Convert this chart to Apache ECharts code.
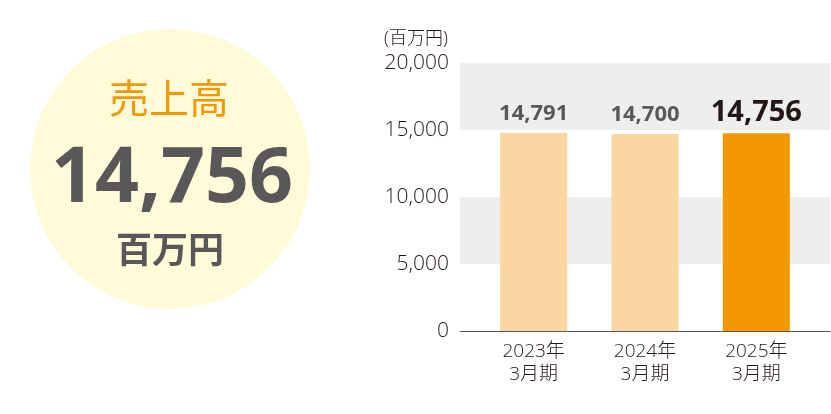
<!DOCTYPE html>
<html>
<head>
<meta charset="utf-8">
<script src="https://cdn.jsdelivr.net/npm/echarts@6/dist/echarts.min.js"></script>
<style>
  html, body { margin: 0; padding: 0; background: #fff; }
  #main { width: 831px; height: 414px; }
</style>
</head>
<body>
<div id="main"></div>
<script>
// データ
var years = ['2023年\n3月期', '2024年\n3月期', '2025年\n3月期'];
var sales = [14791, 14700, 14756];
var yTicks = [0, 5000, 10000, 15000, 20000];
var unitLabel = '(百万円)';
var headTitle = '売上高';

var FONT = '"Noto Sans CJK JP", "Noto Sans", sans-serif';
var NUMFONT = '"Open Sans", "Noto Sans CJK JP", sans-serif';
var latest = sales[sales.length - 1];
var fmt = function (v) { return v.toLocaleString('en-US'); };

var myChart = echarts.init(document.getElementById('main'));

var option = {
  animation: false,
  textStyle: { fontFamily: FONT },
  grid: [
    // 背景の縞と軸線
    { left: 460, right: 1, top: 63, bottom: 83 },
    // 棒グラフ
    { left: 478, right: 19, top: 63, bottom: 83 }
  ],
  xAxis: [
    {
      gridIndex: 0, type: 'category', data: [''],
      axisLine: { show: true, lineStyle: { color: '#595757', width: 1 } },
      axisTick: { show: false }, axisLabel: { show: false }
    },
    {
      gridIndex: 1, type: 'category', data: years,
      axisLine: { show: false }, axisTick: { show: false },
      axisLabel: {
        color: '#231815', fontSize: 19, lineHeight: 23, margin: 9,
        fontFamily: NUMFONT, fontWeight: 300
      }
    }
  ],
  yAxis: [
    {
      gridIndex: 0, type: 'value', min: yTicks[0], max: yTicks[yTicks.length - 1],
      interval: yTicks[1] - yTicks[0],
      axisLine: { show: false }, axisTick: { show: false },
      splitLine: { show: false },
      splitArea: { show: true, areaStyle: { color: ['rgba(0,0,0,0)', '#eeeeee'] } },
      axisLabel: {
        color: '#231815', fontSize: 21, margin: 11, fontWeight: 300,
        fontFamily: NUMFONT, padding: [3, 0, 0, 0],
        formatter: function (v) { return fmt(v); }
      }
    },
    {
      gridIndex: 1, type: 'value', min: yTicks[0], max: yTicks[yTicks.length - 1],
      interval: yTicks[1] - yTicks[0],
      show: false
    }
  ],
  series: [
    {
      type: 'bar', xAxisIndex: 1, yAxisIndex: 1,
      barWidth: 67,
      data: sales.map(function (v, i) {
        var isLast = i === sales.length - 1;
        return {
          value: v,
          itemStyle: { color: isLast ? '#f39800' : '#fad7a0' },
          label: isLast
            ? { fontSize: 29, color: '#231815', fontWeight: 'bold', distance: 6 }
            : { fontSize: 22, color: '#595757', fontWeight: 'bold', distance: 8 }
        };
      }),
      label: {
        show: true, position: 'top',
        fontFamily: '"Noto Sans", sans-serif',
        formatter: function (p) { return fmt(p.value); }
      }
    }
  ],
  graphic: [
    {
      type: 'circle', shape: { cx: 170, cy: 169, r: 140 },
      style: { fill: '#fffad8' }, z: -1
    },
    {
      type: 'text', x: 169, y: 98,
      style: {
        text: headTitle, fill: '#f39800', font: '40px ' + FONT,
        textAlign: 'center', textVerticalAlign: 'middle'
      }
    },
    {
      type: 'text', x: 172, y: 180,
      style: {
        text: fmt(latest), fill: '#595757', font: 'bold 77px "Noto Sans", sans-serif',
        textAlign: 'center', textVerticalAlign: 'middle'
      }
    },
    {
      type: 'text', x: 170, y: 249,
      style: {
        text: '百万円', fill: '#595757', font: 'bold 36px ' + FONT,
        textAlign: 'center', textVerticalAlign: 'middle'
      }
    },
    {
      type: 'text', x: 416, y: 39,
      style: {
        text: unitLabel, fill: '#231815', font: '300 18px ' + NUMFONT,
        textAlign: 'center', textVerticalAlign: 'middle'
      }
    }
  ]
};

myChart.setOption(option);
</script>
</body>
</html>
